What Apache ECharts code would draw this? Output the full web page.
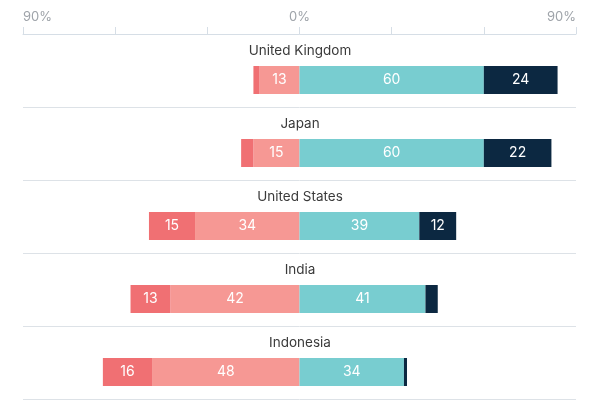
<!DOCTYPE html>
<html>
<head>
<meta charset="utf-8">
<script src="https://cdn.jsdelivr.net/npm/echarts@6/dist/echarts.min.js"></script>
<style>html,body{margin:0;padding:0;background:#fff}#c{width:600px;height:400px}</style>
</head>
<body>
<div id="c"></div>
<script>
const countries = ['United Kingdom', 'Japan', 'United States', 'India', 'Indonesia'];
const stronglyNegative = [2, 4, 15, 13, 16];
const somewhatNegative = [13, 15, 34, 42, 48];
const somewhatPositive = [60, 60, 39, 41, 34];
const stronglyPositive = [24, 22, 12, 4, 1];
const axisTicks = [-90, 0, 90];

const FONT = 'Inter, "Noto Sans", sans-serif';
const chart = echarts.init(document.getElementById('c'), null, {renderer: 'canvas'});

function lbl() {
  return {
    show: true, position: 'inside', color: '#fff', fontSize: 14, fontFamily: FONT,
    formatter: p => Math.abs(p.value) >= 5 ? String(Math.abs(p.value)) : ''
  };
}
function seg(name, data, color, neg) {
  return {
    name, type: 'bar', stack: 'total', barWidth: 28, barGap: '-32%',
    data: data.map(v => neg ? -v : v),
    itemStyle: {color}, label: lbl(), emphasis: {disabled: true}
  };
}

chart.setOption({
  animation: false,
  grid: {left: 23, right: 24, top: 34, bottom: 1, containLabel: false},
  xAxis: {
    type: 'value', position: 'top', min: -90, max: 90, interval: 30,
    axisLine: {show: true, lineStyle: {color: '#d6dee6', width: 1}},
    axisTick: {show: true, length: 7, lineStyle: {color: '#d6dee6'}},
    splitLine: {show: false},
    axisLabel: {
      color: '#9ea3a9', fontSize: 13, fontFamily: FONT, margin: 10,
      alignMinLabel: 'left', alignMaxLabel: 'right',
      formatter: v => axisTicks.indexOf(v) >= 0 ? Math.abs(v) + '%' : ''
    }
  },
  yAxis: {
    type: 'category', inverse: true, data: countries,
    axisLine: {show: false}, axisTick: {show: false},
    splitLine: {show: true, lineStyle: {color: '#dde2e7', width: 1}},
    axisLabel: {
      inside: true, margin: 277, align: 'center', verticalAlign: 'bottom',
      color: '#3a3a3a', fontSize: 13.5, fontFamily: FONT, lineHeight: 15,
      padding: [0, 0, 12, 0]
    }
  },
  series: [
    {name: 'pad', type: 'bar', stack: 'pad', barWidth: 28, barGap: '-32%', data: [], silent: true},
    seg('Somewhat unfavourable', somewhatNegative, '#f69894', true),
    seg('Very unfavourable', stronglyNegative, '#f07073', true),
    seg('Somewhat favourable', somewhatPositive, '#78cdd0', false),
    seg('Very favourable', stronglyPositive, '#0c2841', false)
  ]
});
</script>
</body>
</html>
